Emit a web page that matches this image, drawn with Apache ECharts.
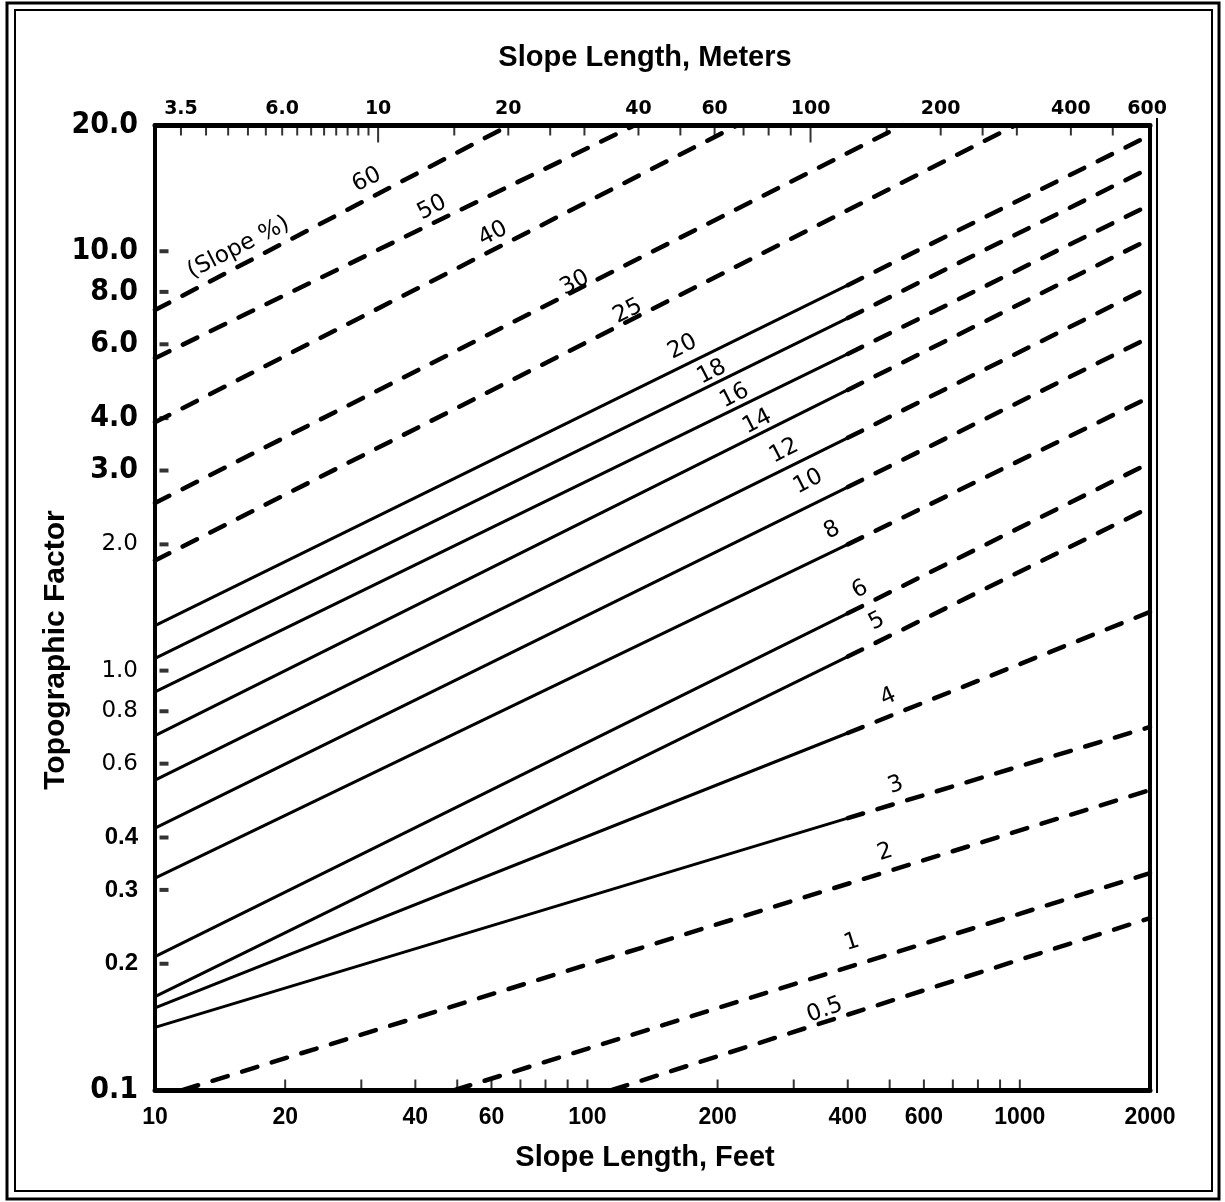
<!DOCTYPE html>
<html>
<head>
<meta charset="utf-8">
<title>Topographic Factor</title>
<script src="https://cdn.jsdelivr.net/npm/echarts@6.0.0/dist/echarts.min.js"></script>
<style>
  html, body { margin: 0; padding: 0; background: #fff; }
  #chart { width: 1225px; height: 1202px; }
</style>
</head>
<body>
<div id="chart"></div>
<script>
// slope % curves: x = slope length (ft), y = topographic factor
const slopeNames = ['60', '50', '40', '30', '25', '20', '18', '16', '14', '12', '10', '8', '6', '5', '4', '3', '2', '1', '0.5'];
const startFt  = [10, 10, 10, 10, 10, 10, 10, 10, 10, 10, 10, 10, 10, 10, 10, 10, 11.6, 49.4, 114];
const startVal = [7.24, 5.56, 3.91, 2.51, 1.83, 1.28, 1.07, 0.89, 0.70, 0.548, 0.421, 0.320, 0.208, 0.167, 0.157, 0.141, 0.1, 0.1, 0.1];
// value where the solid part stops (at 400 ft); null = dashed all the way
const breakVal = [null, null, null, null, null, 8.30, 6.93, 5.69, 4.67, 3.59, 2.74, 2.00, 1.37, 1.08, 0.71, 0.445, null, null, null];
const endFt    = [66.2, 129, 223, 537, 980, 2000, 2000, 2000, 2000, 2000, 2000, 2000, 2000, 2000, 2000, 2000, 2000, 2000, 2000];
const endVal   = [20, 20, 20, 20, 20, 18.9, 15.8, 12.9, 10.7, 8.22, 6.24, 4.49, 3.13, 2.45, 1.38, 0.734, 0.519, 0.329, 0.257];
const breakFt = 400;

// where each curve is labelled
const labelFt  = [30.9, 43.7, 60.5, 93.5, 124, 166, 194, 219, 247, 285, 324, 368, 427, 467, 496, 517, 488, 409, 354];
const labelVal = [14.8, 12.7, 11.0, 8.40, 7.19, 5.91, 5.15, 4.52, 3.92, 3.34, 2.82, 2.16, 1.56, 1.31, 0.865, 0.533, 0.369, 0.225, 0.155];
const labelAngle = [27, 27, 27, 27, 27, 27, 27, 27, 27, 27, 27, 27, 27, 27, 24, 20, 18, 18, 20];

// axes
const feetTicks  = [20, 30, 40, 50, 60, 70, 80, 90, 100, 200, 300, 400, 500, 600, 700, 800, 900, 1000];
const feetLabels = [10, 20, 40, 60, 100, 200, 400, 600, 1000, 2000];
const meterTicks = [3.5, 4, 4.5, 5, 5.5, 6, 6.5, 7, 7.5, 8, 8.5, 9, 9.5, 15, 20, 25, 30, 40, 50, 60, 70, 80, 90, 150, 200, 250, 300, 400, 500];
const meterMajor = [10, 100];
const meterLabels = [3.5, 6, 10, 20, 40, 60, 100, 200, 400, 600];
const meterLabelText = ['3.5', '6.0', '10', '20', '40', '60', '100', '200', '400', '600'];
const factorTicks = [10, 8, 6, 4, 3, 2, 1, 0.8, 0.6, 0.4, 0.3, 0.2];
const factorLabels = [20, 10, 8, 6, 4, 3, 2, 1, 0.8, 0.6, 0.4, 0.3, 0.2, 0.1];
const factorLabelText = ['20.0', '10.0', '8.0', '6.0', '4.0', '3.0', '2.0', '1.0', '0.8', '0.6', '0.4', '0.3', '0.2', '0.1'];

const NARROW = "'Liberation Sans Narrow', 'DejaVu Sans Condensed', 'Liberation Sans', sans-serif";
const ROUND = "'DejaVu Sans', sans-serif";
const ARIAL = "'Liberation Sans', Arial, sans-serif";

function curve(points, dashed) {
    return {
        type: 'line',
        xAxisIndex: 0,
        yAxisIndex: 0,
        data: points,
        showSymbol: false,
        silent: true,
        lineStyle: dashed
            ? { color: '#000', width: 4.5, type: [16, 15], cap: 'round' }
            : { color: '#000', width: 3 }
    };
}

function marks(xIdx, points, size, offset) {
    return {
        type: 'scatter',
        xAxisIndex: xIdx,
        yAxisIndex: 0,
        symbol: 'rect',
        symbolSize: size,
        symbolOffset: offset,
        itemStyle: { color: '#000' },
        data: points,
        clip: false,
        silent: true,
        z: 4
    };
}

function texts(xIdx, items, label) {
    return {
        type: 'scatter',
        xAxisIndex: xIdx,
        yAxisIndex: 0,
        symbolSize: 0,
        itemStyle: { color: '#000', opacity: 1 },
        data: items,
        clip: false,
        silent: true,
        z: 5,
        label: Object.assign({ show: true, formatter: '{b}', color: '#000', opacity: 1, textBorderWidth: 0 }, label)
    };
}

const series = [];
slopeNames.forEach((name, i) => {
    if (breakVal[i] !== null) {
        series.push(curve([[startFt[i], startVal[i]], [breakFt, breakVal[i]]], false));
        series.push(curve([[breakFt, breakVal[i]], [endFt[i], endVal[i]]], true));
    } else {
        series.push(curve([[startFt[i], startVal[i]], [endFt[i], endVal[i]]], true));
    }
});

// tick marks
series.push(marks(0, feetTicks.map(v => [v, 0.1]), [2, 9], [0, -6]));
series.push(marks(1, meterTicks.map(v => [v, 20]), [2, 9], [0, 6]));
series.push(marks(1, meterMajor.map(v => [v, 20]), [2, 17], [0, 9]));
series.push(marks(0, factorTicks.map(v => [10, v]), [9, 4], [9, 0]));

// tick labels
series.push(texts(0, feetLabels.map(v => ({ value: [v, 0.1], name: String(v) })),
    { position: 'bottom', distance: 16, fontFamily: ARIAL, fontWeight: 'bold', fontSize: 23 }));
series.push(texts(1, meterLabels.map((v, i) => ({ value: [v, 20], name: meterLabelText[i] })),
    { position: 'top', distance: 6, fontFamily: ROUND, fontWeight: 'bold', fontSize: 19 }));
series.push(texts(0, factorLabels.map((v, i) => {
    let font;
    if (i < 6 || i === factorLabels.length - 1) {
        font = { fontFamily: NARROW, fontWeight: 'bold', fontSize: 30 };
    } else if (v >= 0.6) {
        font = { fontFamily: ROUND, fontWeight: 'normal', fontSize: 23 };
    } else {
        font = { fontFamily: ARIAL, fontWeight: 'bold', fontSize: 24 };
    }
    return {
        value: [10, v],
        name: factorLabelText[i],
        label: Object.assign({ color: '#000' }, font)
    };
}), { position: 'left', distance: 17 }));

// curve labels
const curveLabelItems = slopeNames.map((name, i) => ({
    value: [labelFt[i], labelVal[i]],
    name: name,
    label: { rotate: labelAngle[i], color: '#000' }
}));
curveLabelItems.push({ value: [15.6, 10.2], name: '(Slope %)', label: { rotate: 27, color: '#000' } });
series.push(texts(0, curveLabelItems,
    { position: 'inside', fontFamily: ROUND, fontSize: 23 }));

const chart = echarts.init(document.getElementById('chart'), null, { renderer: 'canvas' });
const option = {
    animation: false,
    backgroundColor: '#fff',
    grid: { left: 155, top: 125, width: 995, height: 965, containLabel: false },
    xAxis: [
        {
            type: 'log', logBase: 10, min: 10, max: 2000, position: 'bottom',
            axisLine: { show: true, onZero: false, lineStyle: { color: '#000', width: 5 } },
            axisTick: { show: false }, axisLabel: { show: false }, splitLine: { show: false }
        },
        {
            type: 'log', logBase: 10, min: 3.048, max: 609.6, position: 'top',
            axisLine: { show: true, onZero: false, lineStyle: { color: '#000', width: 5 } },
            axisTick: { show: false }, axisLabel: { show: false }, splitLine: { show: false }
        }
    ],
    yAxis: [
        {
            type: 'log', logBase: 10, min: 0.1, max: 20, position: 'left',
            axisLine: { show: true, onZero: false, lineStyle: { color: '#000', width: 4 } },
            axisTick: { show: false }, axisLabel: { show: false }, splitLine: { show: false }
        },
        {
            type: 'log', logBase: 10, min: 0.1, max: 20, position: 'right',
            axisLine: { show: true, onZero: false, lineStyle: { color: '#000', width: 4 } },
            axisTick: { show: false }, axisLabel: { show: false }, splitLine: { show: false }
        }
    ],
    graphic: [
        // double frame around the figure
        { type: 'rect', shape: { x: 7, y: 3, width: 1212, height: 1196 }, style: { fill: null, stroke: '#000', lineWidth: 3 } },
        { type: 'rect', shape: { x: 15, y: 10, width: 1197, height: 1181 }, style: { fill: null, stroke: '#000', lineWidth: 2 } },
        // second line on the right edge of the plot
        { type: 'line', shape: { x1: 1157, y1: 118, x2: 1157, y2: 1093 }, style: { stroke: '#000', lineWidth: 2 } },
        {
            type: 'text', x: 645, y: 58,
            style: { text: 'Slope Length, Meters', font: 'bold 29px ' + ARIAL, fill: '#000', textAlign: 'center', textVerticalAlign: 'middle' }
        },
        {
            type: 'text', x: 645, y: 1158,
            style: { text: 'Slope Length, Feet', font: 'bold 29px ' + ARIAL, fill: '#000', textAlign: 'center', textVerticalAlign: 'middle' }
        },
        {
            type: 'text', x: 56, y: 650, rotation: Math.PI / 2,
            style: { text: 'Topographic Factor', font: 'bold 30px ' + ARIAL, fill: '#000', textAlign: 'center', textVerticalAlign: 'middle' }
        }
    ],
    series: series
};
chart.setOption(option);
</script>
</body>
</html>
